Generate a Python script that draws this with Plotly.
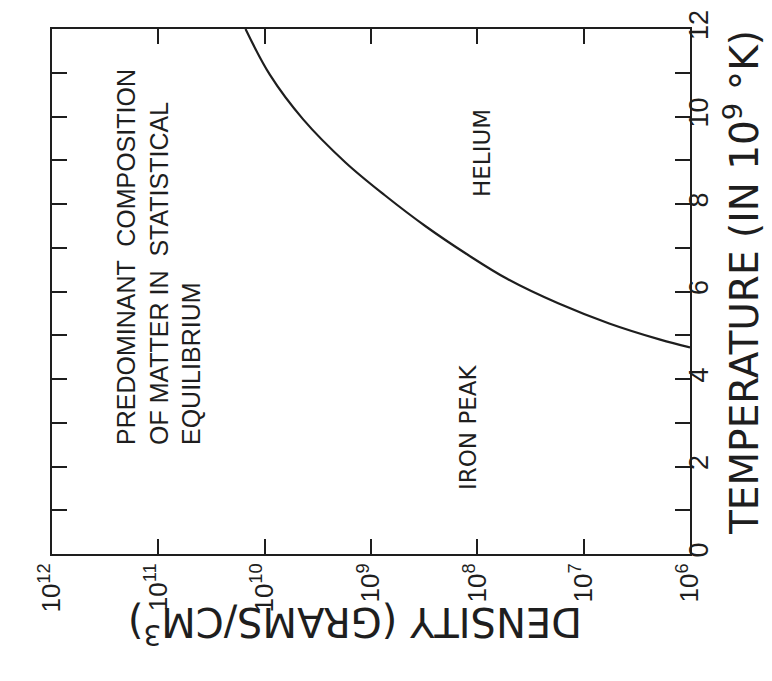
import plotly.graph_objects as go

# Boundary curve between IRON PEAK and HELIUM regions (log10 density, temperature in 1e9 K)
boundary_log_density = [10.18, 9.95, 9.64, 9.24, 8.87, 8.48, 8.09, 7.72, 7.24, 6.76, 6.28, 6.00]
boundary_temperature = [12.0, 10.95, 9.94, 8.95, 8.20, 7.48, 6.84, 6.29, 5.73, 5.27, 4.90, 4.72]

# Axis ticks
density_exponents = [12, 11, 10, 9, 8, 7, 6]
density_tick_labels = ["10<sup>%d</sup>" % e for e in density_exponents]
temperature_ticks = list(range(0, 13))
temperature_tick_labels = [str(t) if t % 2 == 0 else "" for t in temperature_ticks]

# Text
title_lines = ["PREDOMINANT  COMPOSITION", "OF MATTER IN  STATISTICAL", "EQUILIBRIUM"]
region_labels = ["HELIUM", "IRON PEAK"]
x_title = "DENSITY (GRAMS/CM<sup>3</sup>)"
y_title = "TEMPERATURE (IN 10<sup>9</sup> °K)"

FONT = "Liberation Sans, Arial, Helvetica, sans-serif"
WIDE = "DejaVu Sans, Verdana, sans-serif"
INK = "#1e1e1e"

# page (window) geometry; the html body adds an 8px margin around the figure
PAGE_W, PAGE_H, OFF = 772, 681, 8
W, H = PAGE_W - OFF, PAGE_H - OFF
L, R, T, B = 52, 690, 29, 554   # plot frame in page pixels


def px(x):
    return (x - L) / (R - L)


def py(y):
    return (B - y) / (B - T)


fig = go.Figure()
fig.add_trace(go.Scatter(
    x=[10 ** e for e in boundary_log_density],
    y=boundary_temperature,
    mode="lines",
    line=dict(shape="spline", smoothing=1.0, color=INK, width=2.2),
    showlegend=False,
    hoverinfo="skip",
))

fig.update_xaxes(
    type="log", range=[12, 6], autorange=False, automargin=False,
    tickvals=[10 ** e for e in density_exponents], ticktext=density_tick_labels,
    tickangle=-90, ticks="inside", ticklen=15, tickwidth=2, tickcolor=INK,
    showline=True, linecolor=INK, linewidth=2, mirror="ticks",
    showgrid=False, zeroline=False,
    tickfont=dict(family=FONT, size=26, color=INK),
    ticklabelstandoff=-3, ticklabeloverflow="allow",
)
fig.update_yaxes(
    range=[0, 12], autorange=False, side="right", automargin=False,
    tickvals=temperature_ticks, ticktext=temperature_tick_labels,
    tickangle=-90, ticks="inside", ticklen=15, tickwidth=2, tickcolor=INK,
    showline=True, linecolor=INK, linewidth=2, mirror="ticks",
    showgrid=False, zeroline=False,
    tickfont=dict(family=FONT, size=27, color=INK),
    ticklabelstandoff=-16, ticklabeloverflow="allow",
)

annotations = [
    dict(text="<br>".join(title_lines), x=px(158), y=py(257), textangle=-90,
         align="left", font=dict(family=FONT, size=25, color=INK)),
    dict(text=region_labels[0], x=px(482), y=py(153), textangle=-90,
         font=dict(family=WIDE, size=23, color=INK)),
    dict(text=region_labels[1], x=px(468), y=py(427), textangle=-90,
         font=dict(family=WIDE, size=23, color=INK)),
    dict(text=y_title, x=px(742), y=py(283), textangle=-90,
         font=dict(family=WIDE, size=39, color=INK)),
    dict(text=x_title, x=px(355), y=py(625), textangle=180,
         font=dict(family=WIDE, size=40, color=INK)),
]
for a in annotations:
    a.update(xref="paper", yref="paper", showarrow=False,
             xanchor="center", yanchor="middle")

fig.update_layout(
    width=W, height=H,
    margin=dict(l=L - OFF, r=PAGE_W - R, t=T - OFF, b=PAGE_H - B, autoexpand=False),
    paper_bgcolor="white", plot_bgcolor="white",
    annotations=annotations,
    showlegend=False,
)

fig.write_html("out.html")
